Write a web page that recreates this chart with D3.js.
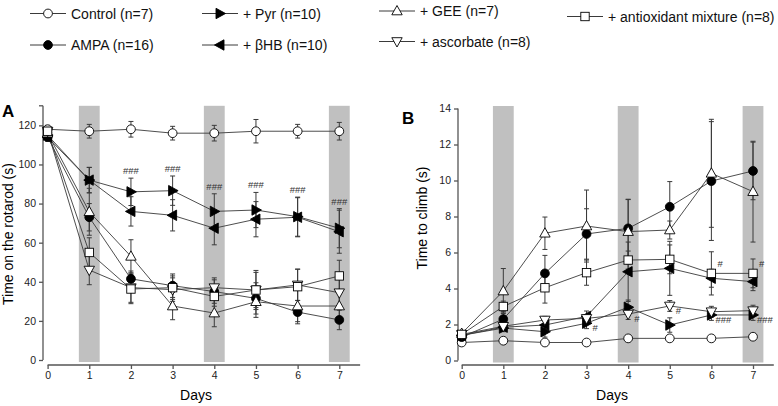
<!DOCTYPE html>
<html><head><meta charset="utf-8">
<script src="https://cdn.jsdelivr.net/npm/d3@7"></script>
<style>body{margin:0;background:#fff}svg{display:block;font-family:Arial,"Liberation Sans",sans-serif}</style>
</head><body><svg id="c" width="778" height="406"></svg>
<script>
const days = [0,1,2,3,4,5,6,7];
const trainingDays = [1,4,7];
const seriesKeys = ["control","ampa","pyr","bhb","gee","asc","mix"];
const seriesLabels = ["Control (n=7)","AMPA (n=16)","+ Pyr (n=10)","+ βHB (n=10)","+ GEE (n=7)","+ ascorbate (n=8)","+ antioxidant mixture (n=8)"];
const seriesShapes = ["circleOpen","circleFilled","triRight","triLeft","triUp","triDown","square"];

// Panel A: time on the rotarod (s)
const rotControl = [118, 117, 118, 116, 116, 117, 117, 117];
const rotAMPA    = [114, 73, 41.5, 38, 35, 31.5, 24.5, 20.5];
const rotPyr     = [115, 92, 86, 86.6, 76, 76.7, 73.3, 67.4];
const rotBHB     = [114, 92, 76, 74, 67.4, 72, 73, 65.6];
const rotGEE     = [116, 75.8, 53, 27.6, 24, 29.8, 27.6, 27.6];
const rotAsc     = [117, 46, 37, 36, 37, 35.8, 38.4, 34.4];
const rotMix     = [117, 55, 36.3, 37, 32.5, 35.8, 37.5, 43];
const rotControlErr = [2, 3.5, 4, 3.5, 4, 6, 3.5, 4.5];
const rotAMPAErr    = [2, 7, 4, 6, 6, 8, 6, 5];
const rotPyrErr     = [2, 6.5, 7, 7.5, 9, 9, 10, 10];
const rotBHBErr     = [2, 6.5, 7.5, 8, 8.5, 9, 10, 11];
const rotGEEErr     = [2, 12, 8.5, 7, 7, 8, 8, 7];
const rotAscErr     = [2, 7.5, 7.5, 6, 5, 10, 8, 8];
const rotMixErr     = [2, 7.5, 7.5, 6, 5, 9, 9, 8];
const rotTicks = [0,20,40,60,80,100,120];
const hashDaysA = [2,3,4,5,6,7];

// Panel B: time to climb (s)
const climbControl = [1.0, 1.1, 1.0, 1.0, 1.23, 1.23, 1.23, 1.32];
const climbAMPA    = [1.3, 2.3, 4.84, 7.03, 7.34, 8.54, 9.97, 10.53];
const climbPyr     = [1.4, 1.8, 1.6, 2.07, 2.96, 1.97, 2.53, 2.53];
const climbBHB     = [1.4, 1.85, 1.97, 2.45, 4.93, 5.12, 4.57, 4.38];
const climbGEE     = [1.5, 3.86, 7.07, 7.47, 7.16, 7.25, 10.4, 9.38];
const climbAsc     = [1.45, 1.9, 2.25, 2.34, 2.58, 3.03, 2.71, 2.77];
const climbMix     = [1.45, 3.0, 4.04, 4.88, 5.58, 5.62, 4.84, 4.84];
const climbControlErr = [0.1, 0.1, 0.1, 0.1, 0.1, 0.1, 0.1, 0.1];
const climbAMPAErr    = [0.15, 0.4, 1.0, 1.4, 1.6, 1.4, 3.3, 1.6];
const climbPyrErr     = [0.1, 0.2, 0.3, 0.3, 0.4, 0.4, 0.3, 0.3];
const climbBHBErr     = [0.1, 0.2, 0.3, 0.3, 1.65, 1.5, 0.5, 0.5];
const climbGEEErr     = [0.15, 1.25, 0.9, 2.0, 1.8, 0.5, 3.0, 2.8];
const climbAscErr     = [0.1, 0.2, 0.2, 0.2, 0.3, 0.3, 0.3, 0.3];
const climbMixErr     = [0.1, 0.3, 0.85, 0.7, 0.5, 0.8, 1.2, 0.8];
const climbTicks = [0,2,4,6,8,10,12,14];
const hashB = [
  {day:3, key:"pyr", text:"#",   side:"below"},
  {day:4, key:"asc", text:"#",   side:"below"},
  {day:5, key:"asc", text:"#",   side:"below"},
  {day:6, key:"mix", text:"#",   side:"above"},
  {day:6, key:"pyr", text:"###", side:"below"},
  {day:7, key:"mix", text:"#",   side:"above"},
  {day:7, key:"pyr", text:"###", side:"below"}
];

const rotVals = [rotControl, rotAMPA, rotPyr, rotBHB, rotGEE, rotAsc, rotMix];
const rotErrs = [rotControlErr, rotAMPAErr, rotPyrErr, rotBHBErr, rotGEEErr, rotAscErr, rotMixErr];
const climbVals = [climbControl, climbAMPA, climbPyr, climbBHB, climbGEE, climbAsc, climbMix];
const climbErrs = [climbControlErr, climbAMPAErr, climbPyrErr, climbBHBErr, climbGEEErr, climbAscErr, climbMixErr];

const svg = d3.select("#c");
const lineCol = "#3a3a3a", axisCol = "#555", barCol = "#c0c0c0";

function marker(g, shape, x, y) {
  const s = g.append("g").attr("transform", `translate(${x},${y})`);
  let el;
  if (shape === "circleOpen" || shape === "circleFilled") {
    el = s.append("circle").attr("r", 4.4);
  } else if (shape === "square") {
    el = s.append("rect").attr("x", -4.2).attr("y", -4.2).attr("width", 8.4).attr("height", 8.4);
  } else {
    const pts = {
      triUp: [[0,-5.5],[5.2,3.8],[-5.2,3.8]],
      triDown: [[0,5.5],[5.2,-3.8],[-5.2,-3.8]],
      triRight: [[5.5,0],[-4,-5.2],[-4,5.2]],
      triLeft: [[-5.5,0],[4,-5.2],[4,5.2]]
    }[shape];
    el = s.append("polygon").attr("points", pts.map(p => p.join(",")).join(" "));
  }
  const filled = (shape === "circleFilled" || shape === "triRight" || shape === "triLeft");
  el.attr("fill", filled ? "#000" : "#fff").attr("stroke", "#000").attr("stroke-width", 0.9);
}

function panel(opts) {
  const {x, y, vals, errs, yTicks, topTick, axisX, axisY, xEnd, barTop, minErr} = opts;
  const g = svg.append("g");
  trainingDays.forEach(d => {
    g.append("rect").attr("x", x(d - 0.25)).attr("width", x(d + 0.25) - x(d - 0.25))
      .attr("y", barTop).attr("height", y(0) + 2 - barTop).attr("fill", barCol);
  });
  const ya = g.append("g").attr("transform", `translate(${axisX},0)`)
    .call(d3.axisLeft(y).tickValues(yTicks).tickFormat(d3.format("d")).tickSize(4).tickPadding(3).tickSizeOuter(0));
  ya.select(".domain").remove();
  ya.append("line").attr("x1", 0).attr("x2", 0).attr("y1", y(0)).attr("y2", y(topTick)).attr("stroke", axisCol).attr("stroke-width", 1.3);
  if (!yTicks.includes(topTick)) ya.append("line").attr("x1", -4).attr("x2", 0).attr("y1", y(topTick)).attr("y2", y(topTick)).attr("stroke", axisCol).attr("stroke-width", 1.3);
  const xa = g.append("g").attr("transform", `translate(0,${axisY})`)
    .call(d3.axisBottom(x).tickValues(days).tickFormat(d3.format("d")).tickSize(4).tickPadding(3).tickSizeOuter(0));
  xa.select(".domain").remove();
  xa.append("line").attr("x1", x(0)).attr("x2", x(xEnd)).attr("y1", 0).attr("y2", 0).attr("stroke", axisCol).attr("stroke-width", 1.3);
  [ya, xa].forEach(a => {
    a.selectAll(".tick line").attr("stroke", axisCol).attr("stroke-width", 1.3);
    a.selectAll(".tick text").attr("font-size", 10.5).attr("fill", "#222").attr("font-family", "Arial, 'Liberation Sans', sans-serif");
  });
  const ln = d3.line().x((v, i) => x(days[i])).y(v => y(v));
  vals.forEach(v => g.append("path").attr("d", ln(v)).attr("fill", "none").attr("stroke", lineCol).attr("stroke-width", 0.9));
  vals.forEach((v, si) => {
    v.forEach((val, i) => {
      const e = errs[si][i];
      if (e < minErr) return;
      const cx = x(days[i]);
      const y1 = y(val + e), y2 = y(val - e);
      g.append("line").attr("x1", cx).attr("x2", cx).attr("y1", y1).attr("y2", y2).attr("stroke", lineCol).attr("stroke-width", 1);
      [y1, y2].forEach(yy => g.append("line").attr("x1", cx - 2.5).attr("x2", cx + 2.5).attr("y1", yy).attr("y2", yy).attr("stroke", lineCol).attr("stroke-width", 1));
    });
  });
  vals.forEach((v, si) => v.forEach((val, i) => marker(g, seriesShapes[si], x(days[i]), y(val))));
  return g;
}

// Panel A
const xA = d3.scaleLinear().domain([0, 7]).range([47.6, 339.3]);
const yA = d3.scaleLinear().domain([0, 130]).range([360, 105.8]);
const gA = panel({x: xA, y: yA, vals: rotVals, errs: rotErrs, yTicks: rotTicks, topTick: 130, axisX: 43, axisY: 365, xEnd: 7.5, barTop: 105.8, minErr: 1});
const pyrIdx = seriesKeys.indexOf("pyr");
hashDaysA.forEach(d => {
  const i = days.indexOf(d);
  gA.append("text").attr("x", xA(d)).attr("y", yA(rotVals[pyrIdx][i] + rotErrs[pyrIdx][i]) - 4)
    .attr("text-anchor", "middle").attr("font-size", 9.5).attr("fill", "#333").text("###");
});
svg.append("text").attr("x", 2).attr("y", 117).attr("font-size", 17).attr("font-weight", "bold").text("A");
svg.append("text").attr("transform", "translate(13,234) rotate(-90)").attr("text-anchor", "middle").attr("font-size", 14).text("Time on the rotarod (s)");
svg.append("text").attr("x", 196).attr("y", 400).attr("text-anchor", "middle").attr("font-size", 14).text("Days");

// Panel B
const xB = d3.scaleLinear().domain([0, 7]).range([461.7, 753]);
const yB = d3.scaleLinear().domain([0, 14]).range([360.5, 108.5]);
const gB = panel({x: xB, y: yB, vals: climbVals, errs: climbErrs, yTicks: climbTicks, topTick: 14, axisX: 458, axisY: 365, xEnd: 7.5, barTop: 106, minErr: 0.2});
hashB.forEach(h => {
  const si = seriesKeys.indexOf(h.key), i = days.indexOf(h.day);
  const px = xB(h.day), py = yB(climbVals[si][i]);
  gB.append("text").attr("x", px + (h.text === "###" ? 4 : 6)).attr("y", h.side === "below" ? py + 8 : py - 6)
    .attr("font-size", 9.5).attr("fill", "#333").text(h.text);
});
svg.append("text").attr("x", 402).attr("y", 124).attr("font-size", 17).attr("font-weight", "bold").text("B");
svg.append("text").attr("transform", "translate(427,218) rotate(-90)").attr("text-anchor", "middle").attr("font-size", 14).text("Time to climb (s)");
svg.append("text").attr("x", 612).attr("y", 400).attr("text-anchor", "middle").attr("font-size", 14).text("Days");

// Legend
const legendPos = [[48,13.5],[48,45],[220,13.5],[220,45],[397,11],[397,41.5],[585,16.5]];
legendPos.forEach((p, si) => {
  const lg = svg.append("g");
  lg.append("line").attr("x1", p[0] - 18).attr("x2", p[0] + 18).attr("y1", p[1]).attr("y2", p[1]).attr("stroke", lineCol).attr("stroke-width", 1);
  marker(lg, seriesShapes[si], p[0], p[1]);
  lg.append("text").attr("x", p[0] + 23).attr("y", p[1] + 5).attr("font-size", 14).attr("fill", "#111").text(seriesLabels[si]);
});
</script></body></html>
